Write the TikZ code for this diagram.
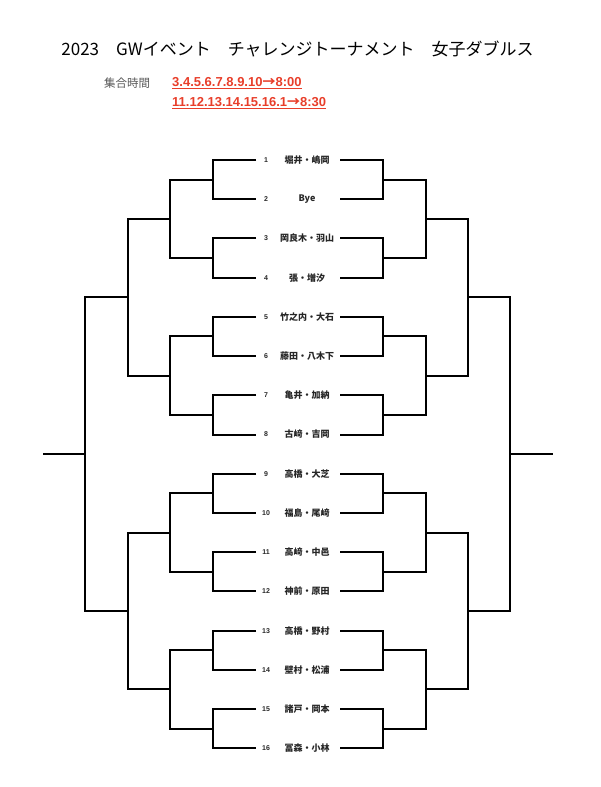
\documentclass[tikz,border=0pt]{standalone}
\usepackage{fontspec}
\setmainfont{Liberation Sans}
\newfontfamily\jp{Noto Sans CJK JP}
\definecolor{timered}{RGB}{232,62,42}

\begin{document}
\begin{tikzpicture}[x=1pt,y=-1pt,
        bracket/.style={line width=2pt},
        seed/.style={font=\fontsize{7}{8}\selectfont\bfseries, text=black!85},
        pair/.style={font=\jp\fontsize{9}{10}\selectfont\bfseries, text=black!85},
        timeline/.style={anchor=west, inner sep=0pt, font=\fontsize{13}{15}\selectfont\bfseries, text=timered}]
    \useasboundingbox (0,0) rectangle (600,787);

    \node (title) at (297.5,49) {\jp\fontsize{17}{20}\selectfont 2023　GWイベント　チャレンジトーナメント　女子ダブルス};
    \node[anchor=west, inner sep=0pt, text=black!65] (gather) at (104,83.5) {\jp\fontsize{11.5}{13}\selectfont 集合時間};
    \node[timeline] (time1) at (172,83.5) {\underline{3.4.5.6.7.8.9.10{\jp →}8:00}};
    \node[timeline] (time2) at (172,103) {\underline{11.12.13.14.15.16.1{\jp →}8:30}};

    % entries
    \foreach \i/\who in {1/堀井・嶋岡, 2/Bye, 3/岡良木・羽山, 4/張・増汐,
            5/竹之内・大石, 6/藤田・八木下, 7/亀井・加納, 8/古﨑・吉岡,
            9/高橋・大芝, 10/福島・尾﨑, 11/高﨑・中邑, 12/神前・原田,
            13/高橋・野村, 14/壁村・松浦, 15/諸戸・岡本, 16/冨森・小林} {
        \node[seed] (S\i) at (266,{160+39.22*(\i-1)}) {\i};
        \node[pair] (N\i) at (307,{160+39.22*(\i-1)}) {\who};
        \coordinate (L\i) at (256,{round(160+39.22*(\i-1))});
        \coordinate (R\i) at (340,{round(160+39.22*(\i-1))});
    }

    % junctions, round by round
    \foreach \k in {1,...,8} {
        \coordinate (LA\k) at (213,{round(160+39.22*(2*\k-1.5))});
        \coordinate (RA\k) at (383,{round(160+39.22*(2*\k-1.5))});
    }
    \foreach \k in {1,...,4} {
        \coordinate (LB\k) at (170,{round(160+39.22*(4*\k-2.5))});
        \coordinate (RB\k) at (426,{round(160+39.22*(4*\k-2.5))});
    }
    \foreach \k in {1,2} {
        \coordinate (LC\k) at (128,{round(160+39.22*(8*\k-4.5))});
        \coordinate (RC\k) at (468,{round(160+39.22*(8*\k-4.5))});
    }
    \coordinate (LD) at (85,454);
    \coordinate (RD) at (510,454);
    \coordinate (LW) at (43,454);
    \coordinate (RW) at (553,454);

    \foreach \k in {1,...,8} {
        \pgfmathtruncatemacro\a{2*\k-1}
        \pgfmathtruncatemacro\b{2*\k}
        \draw[bracket] (L\a) -| (LA\k) |- (L\b);
        \draw[bracket] (R\a) -| (RA\k) |- (R\b);
    }
    \foreach \k in {1,...,4} {
        \pgfmathtruncatemacro\a{2*\k-1}
        \pgfmathtruncatemacro\b{2*\k}
        \draw[bracket] (LA\a) -| (LB\k) |- (LA\b);
        \draw[bracket] (RA\a) -| (RB\k) |- (RA\b);
    }
    \foreach \k in {1,2} {
        \pgfmathtruncatemacro\a{2*\k-1}
        \pgfmathtruncatemacro\b{2*\k}
        \draw[bracket] (LB\a) -| (LC\k) |- (LB\b);
        \draw[bracket] (RB\a) -| (RC\k) |- (RB\b);
    }
    \draw[bracket] (LC1) -| (LD) |- (LC2);
    \draw[bracket] (RC1) -| (RD) |- (RC2);
    \draw[bracket] (LD) -- (LW);
    \draw[bracket] (RD) -- (RW);
\end{tikzpicture}
\end{document}
